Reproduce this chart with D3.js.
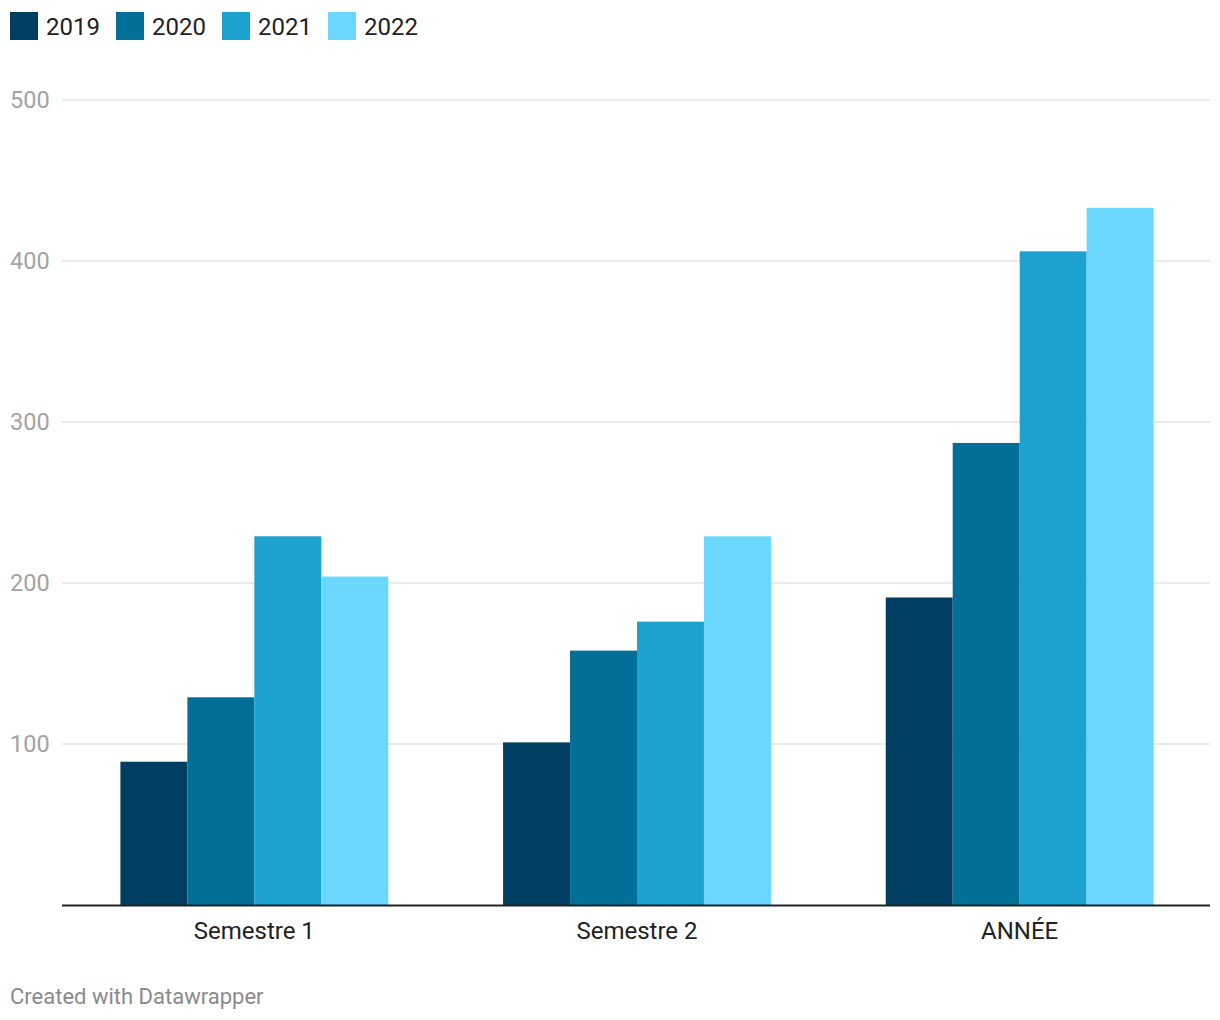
<!DOCTYPE html>
<html><head><meta charset="utf-8">
<script src="https://cdn.jsdelivr.net/npm/d3@7"></script>
<style>body{margin:0;background:#fff;font-family:Roboto,"Noto Sans",sans-serif;}</style>
</head><body>
<svg id="c" width="1220" height="1020"></svg>
<script>
const categories = ["Semestre 1", "Semestre 2", "ANNÉE"];
const seriesNames = ["2019", "2020", "2021", "2022"];
const values2019 = [89, 101, 191];
const values2020 = [129, 158, 287];
const values2021 = [229, 176, 406];
const values2022 = [204, 229, 433];
const yTicks = [100, 200, 300, 400, 500];
const colors = ["#003e62", "#016f98", "#1ba2cf", "#6bd7fe"];
const allValues = [values2019, values2020, values2021, values2022];

(function () {
const svg = d3.select("#c");
const mLeft = 62, mRight = 1210, mTop = 100, mBottom = 905;
const y = d3.scaleLinear().domain([0, 500]).range([mBottom, mTop]);
const x0 = d3.scaleBand().domain(categories).range([mLeft + 1, mRight + 1]).paddingInner(0.3).paddingOuter(0.15);
const x1 = d3.scaleBand().domain(seriesNames).range([0, x0.bandwidth()]);

// grid
svg.append("g").selectAll("line").data(yTicks).join("line")
  .attr("x1", mLeft).attr("x2", mRight)
  .attr("y1", d => y(d)).attr("y2", d => y(d))
  .attr("stroke", "#e3e3e3").attr("stroke-width", 1.5);
svg.append("g").selectAll("text").data(yTicks).join("text")
  .attr("x", 10).attr("y", d => y(d) + 8)
  .attr("font-size", 23.5).attr("fill", "#a3a3a3").text(d => d);

// bars
const g = svg.append("g");
categories.forEach((cat, ci) => {
  seriesNames.forEach((s, si) => {
    const v = allValues[si][ci];
    g.append("rect")
      .attr("x", x0(cat) + x1(s))
      .attr("width", x1.bandwidth())
      .attr("y", y(v))
      .attr("height", y(0) - y(v))
      .attr("fill", colors[si]);
  });
});

// x axis
svg.append("line").attr("x1", mLeft).attr("x2", mRight)
  .attr("y1", mBottom + 0.5).attr("y2", mBottom + 0.5)
  .attr("stroke", "#222").attr("stroke-width", 2);
svg.append("g").selectAll("text").data(categories).join("text")
  .attr("x", d => x0(d) + x0.bandwidth() / 2).attr("y", 939)
  .attr("text-anchor", "middle").attr("font-size", 24).attr("fill", "#222")
  .text(d => d);

// legend
const lg = svg.append("g");
seriesNames.forEach((s, i) => {
  const lx = 10 + i * 106;
  lg.append("rect").attr("x", lx).attr("y", 12).attr("width", 28).attr("height", 28).attr("fill", colors[i]);
  lg.append("text").attr("x", lx + 36).attr("y", 34.5).attr("font-size", 24).attr("fill", "#222").text(s);
});

// footer
svg.append("text").attr("x", 10).attr("y", 1004).attr("font-size", 22).attr("fill", "#8a8a8a").text("Created with Datawrapper");
})();
</script>
</body></html>
